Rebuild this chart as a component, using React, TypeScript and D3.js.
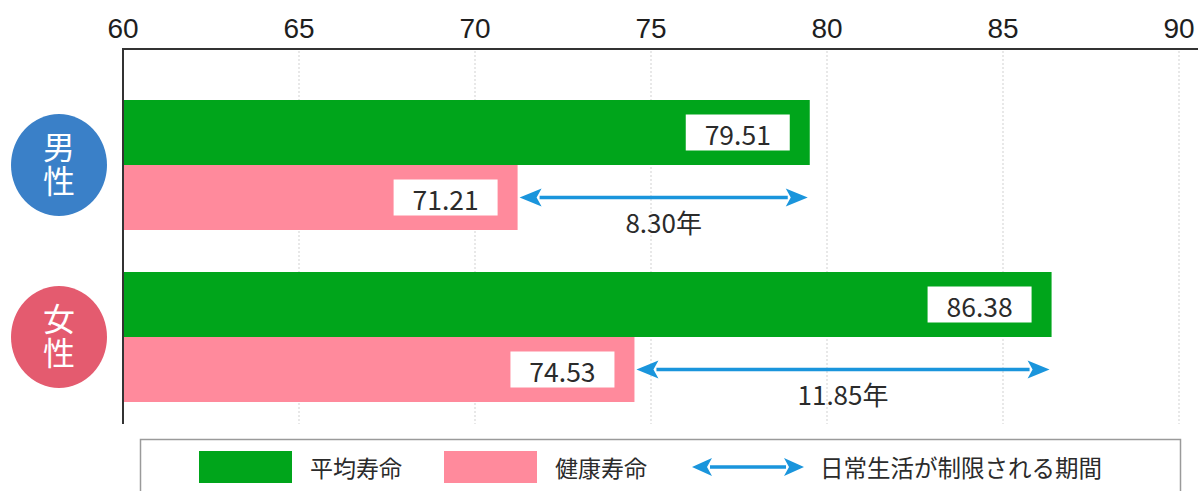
import React from "react";
import * as d3 from "d3";

const genders = ["男性", "女性"];
const seriesNames = ["平均寿命", "健康寿命"];
const averageLife = [79.51, 86.38];
const healthyLife = [71.21, 74.53];
const gapLabels = ["8.30年", "11.85年"];
const xTicks = [60, 65, 70, 75, 80, 85, 90];
const legendArrowLabel = "日常生活が制限される期間";

const W = 1198;
const H = 491;
const GREEN = "#00a51b";
const PINK = "#ff8a9c";
const BLUE_ARROW = "#1a95dc";
const circleColors = ["#3a80c8", "#e45b6f"];
const JP = "'Noto Sans CJK JP', 'Noto Sans', sans-serif";
const NUM = "'Liberation Sans', Arial, sans-serif";

function Arrow({ x1, x2, y, head = 22, half = 9, sw = 3.5 }: { x1: number; x2: number; y: number; head?: number; half?: number; sw?: number }) {
  return (
    <g>
      <line x1={x1 + head - 2} x2={x2 - head + 2} y1={y} y2={y} stroke={BLUE_ARROW} strokeWidth={sw} />
      <path d={`M${x1},${y} L${x1 + head},${y - half} L${x1 + head - 5},${y} L${x1 + head},${y + half} Z`} fill={BLUE_ARROW} />
      <path d={`M${x2},${y} L${x2 - head},${y - half} L${x2 - head + 5},${y} L${x2 - head},${y + half} Z`} fill={BLUE_ARROW} />
    </g>
  );
}

export default function App() {
  const x = d3.scaleLinear().domain([60, 90]).range([123, 1179]);
  const yGroup = d3
    .scaleBand<string>()
    .domain(genders)
    .range([79, 423])
    .paddingInner(42 / 172)
    .paddingOuter(21 / 172);
  const ySeries = d3.scaleBand<string>().domain(seriesNames).range([0, yGroup.bandwidth()]).padding(0);
  const bh = ySeries.bandwidth();

  const axisTop = 49;
  const axisBottom = 424;
  const boxW = 104;
  const boxH = 36;
  const boxGap = 20;

  const valueBox = (val: number, yTop: number, key: string) => {
    const xr = x(val) - boxGap;
    const cy = yTop + bh / 2;
    return (
      <g key={key}>
        <rect x={xr - boxW} y={cy - boxH / 2} width={boxW} height={boxH} fill="#fff" />
        <text x={xr - boxW / 2} y={cy + 1} textAnchor="middle" dominantBaseline="central" fontFamily={JP} fontSize={26.5} fill="#2b2b2b">
          {val.toFixed(2)}
        </text>
      </g>
    );
  };

  return (
    <svg width={W} height={H} style={{ position: "absolute", left: 0, top: 0, background: "#fff" }}>
      <rect x={0} y={0} width={W} height={H} fill="#fff" />
      {xTicks.slice(1).map((t) => (
        <line key={"g" + t} x1={x(t)} x2={x(t)} y1={axisTop + 2} y2={axisBottom} stroke="#d9d9d9" strokeWidth={1.2} strokeDasharray="2,2" />
      ))}
      {xTicks.map((t) => (
        <text key={"t" + t} x={x(t)} y={38} textAnchor="middle" fontFamily={NUM} fontSize={28} fill="#1e1e1e">
          {t}
        </text>
      ))}
      {genders.map((g, i) => {
        const gy = yGroup(g)!;
        const yA = gy + ySeries(seriesNames[0])!;
        const yH = gy + ySeries(seriesNames[1])!;
        const cy = gy + yGroup.bandwidth() / 2;
        const arrowY = yH + bh / 2;
        return (
          <g key={g}>
            <rect x={x(60)} y={yA} width={x(averageLife[i]) - x(60)} height={bh} fill={GREEN} />
            <rect x={x(60)} y={yH} width={x(healthyLife[i]) - x(60)} height={bh} fill={PINK} />
            {valueBox(averageLife[i], yA, "a" + i)}
            {valueBox(healthyLife[i], yH, "h" + i)}
            <Arrow x1={x(healthyLife[i]) + 2} x2={x(averageLife[i]) - 2} y={arrowY} />
            <text
              x={(x(healthyLife[i]) + x(averageLife[i])) / 2}
              y={arrowY + 35}
              textAnchor="middle"
              fontFamily={JP}
              fontSize={26}
              fill="#2b2b2b"
            >
              {gapLabels[i]}
            </text>
            <ellipse cx={59} cy={cy} rx={48} ry={51} fill={circleColors[i]} />
            <text
              x={59}
              y={cy}
              writingMode="vertical-rl"
              textAnchor="middle"
              fontFamily={JP}
              fontSize={32}
              letterSpacing={2}
              fill="#fff"
              style={{ writingMode: "vertical-rl" }}
            >
              {g}
            </text>
          </g>
        );
      })}
      <line x1={x(60)} x2={W} y1={axisTop} y2={axisTop} stroke="#333" strokeWidth={2} />
      <line x1={x(60)} x2={x(60)} y1={axisTop - 1} y2={axisBottom} stroke="#333" strokeWidth={2} />
      <rect x={140.5} y={439.5} width={1040} height={80} fill="#fff" stroke="#9a9a9a" strokeWidth={1.5} />
      <rect x={199} y={451} width={93} height={32} fill={GREEN} />
      <text x={310} y={467} dominantBaseline="central" fontFamily={JP} fontSize={23} fill="#2b2b2b">
        {seriesNames[0]}
      </text>
      <rect x={444} y={451} width={93} height={32} fill={PINK} />
      <text x={555} y={467} dominantBaseline="central" fontFamily={JP} fontSize={23} fill="#2b2b2b">
        {seriesNames[1]}
      </text>
      <Arrow x1={692} x2={804} y={467} head={20} half={9} sw={3.5} />
      <text x={820} y={467} dominantBaseline="central" fontFamily={JP} fontSize={23.5} fill="#2b2b2b">
        {legendArrowLabel}
      </text>
    </svg>
  );
}
